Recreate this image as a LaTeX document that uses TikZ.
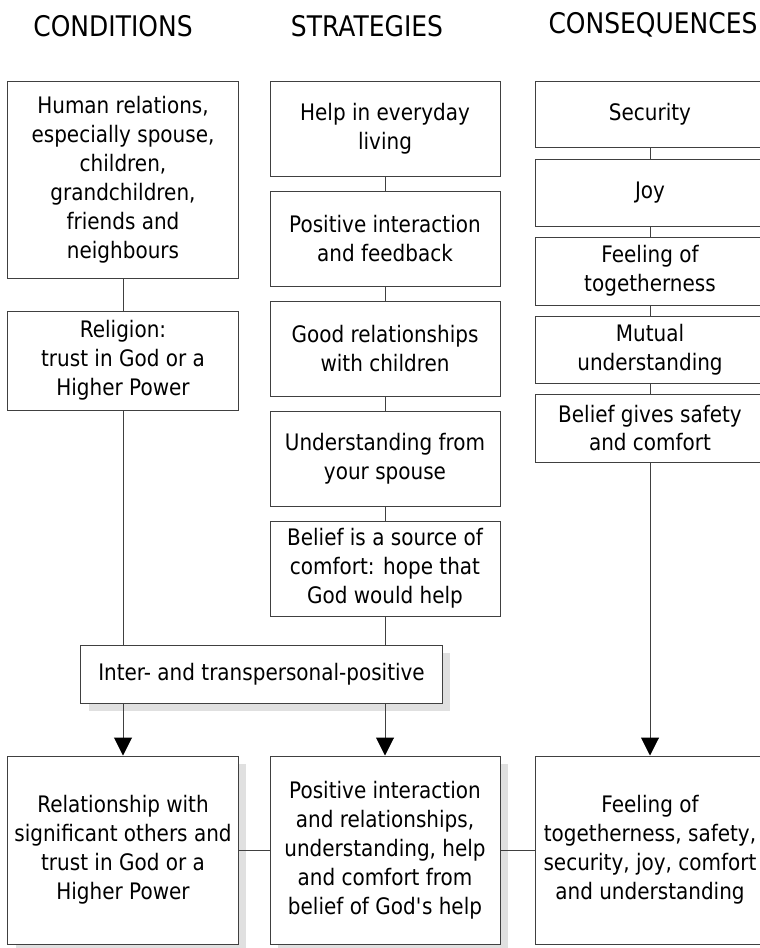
\documentclass[tikz,border=0pt]{standalone}
\usepackage{fontspec}
\setmainfont{DejaVu Sans}[FakeStretch=0.88]
\usetikzlibrary{arrows.meta,shadows}
\begin{document}
\begin{tikzpicture}[x=1bp,y=-1bp,
  box/.style={draw=black!75,fill=white,line width=1bp,align=center,inner sep=0pt,
    minimum width=230bp,font=\fontsize{22.8}{29}\selectfont},
  shade/.style={drop shadow={shadow xshift=8bp,shadow yshift=-8bp,fill=black!12,opacity=1}},
  head/.style={font=\fontsize{28.5}{32}\selectfont},
  link/.style={draw=black!75,line width=1bp},
  arr/.style={link,-{Triangle[width=18bp,length=18bp,fill=black,color=black]}}]
\useasboundingbox (0,0) rectangle (760,948);
\clip (0,0) rectangle (760,948);

% column headings
\node[head] (hc) at (113,26) {CONDITIONS};
\node[head] (hs) at (367,26) {STRATEGIES};
\node[head] (hq) at (653,25) {CONSEQUENCES};

% conditions
\node[box,minimum height=197bp] (c1) at (123,179.5) {Human relations,\\especially spouse,\\children,\\grandchildren,\\friends and\\neighbours};
\node[box,minimum height=99bp] (c2) at (123,360.5) {Religion:\\trust in God or a\\Higher Power};

% strategies
\node[box,minimum height=95bp] (s1) at (385,128.5) {Help in everyday\\living};
\node[box,minimum height=95bp] (s2) at (385,238.5) {Positive interaction\\and feedback};
\node[box,minimum height=95bp] (s3) at (385,348.5) {Good relationships\\with children};
\node[box,minimum height=95bp] (s4) at (385,458.5) {Understanding from\\your spouse};
\node[box,minimum height=95bp] (s5) at (385,568.5) {Belief is a source of\\comfort: hope that\\God would help};

% consequences
\node[box,minimum height=66bp] (q1) at (650,114) {Security};
\node[box,minimum height=67bp] (q2) at (650,192.5) {Joy};
\node[box,minimum height=68bp] (q3) at (650,271) {Feeling of\\togetherness};
\node[box,minimum height=67bp] (q4) at (650,349.5) {Mutual\\understanding};
\node[box,minimum height=68bp] (q5) at (650,428) {Belief gives safety\\and comfort};

% joint category
\node[box,shade,minimum width=361bp,minimum height=58bp] (m) at (261.5,674) {Inter- and transpersonal-positive};

% results
\node[box,shade,minimum height=188bp] (r1) at (123,850) {Relationship with\\significant others and\\trust in God or a\\Higher Power};
\node[box,shade,minimum height=188bp] (r2) at (385,850) {Positive interaction\\and relationships,\\understanding, help\\and comfort from\\belief of God\textquotesingle s help};
\node[box,minimum height=188bp] (r3) at (650,850) {Feeling of\\togetherness, safety,\\security, joy, comfort\\and understanding};

% vertical links
\draw[link] (c1) -- (c2);
\draw[link] (s1) -- (s2);
\draw[link] (s2) -- (s3);
\draw[link] (s3) -- (s4);
\draw[link] (s4) -- (s5);
\draw[link] (q1) -- (q2);
\draw[link] (q2) -- (q3);
\draw[link] (q3) -- (q4);
\draw[link] (q4) -- (q5);
\draw[link] (c2.south) -- (c2.south |- m.north);
\draw[link] (s5) -- (s5.south |- m.north);
\draw[arr] (m.south -| r1.north) -- (r1.north);
\draw[arr] (m.south -| r2.north) -- (r2.north);
\draw[arr] (q5) -- (r3);

% horizontal links
\draw[link] (r1) -- (r2);
\draw[link] (r2) -- (r3);
\end{tikzpicture}
\end{document}
